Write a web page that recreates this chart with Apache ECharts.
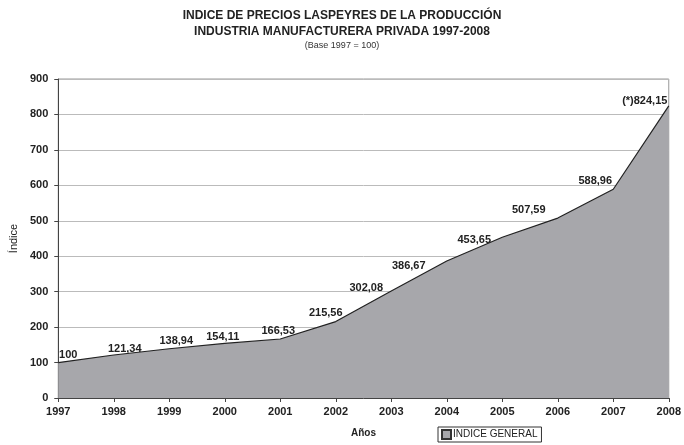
<!DOCTYPE html>
<html>
<head>
<meta charset="utf-8">
<script src="https://cdn.jsdelivr.net/npm/echarts@6/dist/echarts.min.js"></script>
<style>
    html, body { margin: 0; padding: 0; background: #fff; }
    #chart1 { width: 684px; height: 445px; }
</style>
</head>
<body>
<div id="chart1"></div>
<script>
var years = ['1997', '1998', '1999', '2000', '2001', '2002', '2003', '2004', '2005', '2006', '2007', '2008'];
var indice = [100, 121.34, 138.94, 154.11, 166.53, 215.56, 302.08, 386.67, 453.65, 507.59, 588.96, 824.15];
var yTicks = [0, 100, 200, 300, 400, 500, 600, 700, 800, 900];

function fmt(v) {
    // coma decimal, como en el original
    return String(v.toFixed(2)).replace('.', ',').replace(',00', '');
}

chart1();

function chart1() {
    var myChart = echarts.init(document.getElementById('chart1'));
    var font = 'Liberation Sans, Arial, sans-serif';
    // desplazamiento de cada etiqueta respecto del punto
    var labelShift = [[10, 1], [11, 2], [7, 1], [-2, 2], [-2, 0], [-10, 0],
        [-25, 6], [-38, 14], [-28, 11], [-29, 0], [-18, 0], [-24, 4]];
    var data = indice.map(function (v, i) {
        return { value: v, label: { offset: labelShift[i] } };
    });
    var option = {
        animation: false,
        title: {
            text: 'INDICE DE PRECIOS LASPEYRES DE LA PRODUCCIÓN\nINDUSTRIA MANUFACTURERA PRIVADA 1997-2008',
            subtext: '(Base 1997 = 100)',
            left: 'center',
            top: 3,
            itemGap: 1,
            textStyle: {
                fontFamily: font,
                fontSize: 12,
                fontWeight: 'bold',
                color: '#222',
                lineHeight: 16
            },
            subtextStyle: {
                fontFamily: font,
                fontSize: 9,
                color: '#333'
            }
        },
        legend: {
            data: ['INDICE GENERAL'],
            left: 438,
            top: 427,
            padding: [2, 4, 2, 3],
            borderColor: '#333',
            borderWidth: 1,
            borderRadius: 0,
            itemWidth: 9,
            itemHeight: 9,
            itemGap: 2,
            icon: 'rect',
            textStyle: {
                fontFamily: font,
                fontSize: 10,
                color: '#222',
                padding: [0, 0, 0, -3]
            }
        },
        grid: {
            left: 55,
            right: 10,
            top: 79,
            bottom: 47,
            show: true,
            borderColor: '#999',
            borderWidth: 1
        },
        xAxis: {
            type: 'category',
            boundaryGap: false,
            data: years,
            name: 'Años',
            nameLocation: 'middle',
            nameGap: 30,
            nameTextStyle: {
                fontFamily: font,
                fontSize: 10,
                fontWeight: 'bold',
                color: '#222'
            },
            axisLine: { lineStyle: { color: '#444' } },
            axisTick: { alignWithLabel: true, length: 4, lineStyle: { color: '#444' } },
            axisLabel: {
                fontFamily: font,
                fontSize: 11,
                fontWeight: 'bold',
                color: '#222',
                margin: 8,
                interval: 0
            },
            splitLine: { show: false }
        },
        yAxis: {
            type: 'value',
            min: yTicks[0],
            max: yTicks[yTicks.length - 1],
            interval: 100,
            name: 'Índice',
            nameLocation: 'middle',
            nameGap: 36,
            nameRotate: 90,
            nameTextStyle: {
                fontFamily: font,
                fontSize: 11,
                color: '#222'
            },
            axisLine: { show: true, lineStyle: { color: '#444' } },
            axisTick: { show: true, length: 4, lineStyle: { color: '#444' } },
            axisLabel: {
                fontFamily: font,
                fontSize: 11,
                fontWeight: 'bold',
                color: '#222',
                margin: 10
            },
            splitLine: { lineStyle: { color: '#bbb', width: 1 } }
        },
        series: [
            {
                name: 'INDICE GENERAL',
                type: 'line',
                data: data,
                symbol: 'circle',
                symbolSize: 0,
                showSymbol: true,
                lineStyle: { color: '#222', width: 1.2 },
                itemStyle: { color: '#a7a7ab', borderColor: '#333', borderWidth: 1 },
                areaStyle: { color: '#a7a7ab', opacity: 1 },
                label: {
                    show: true,
                    position: 'top',
                    distance: 3,
                    fontFamily: font,
                    fontSize: 11,
                    fontWeight: 'bold',
                    color: '#222',
                    formatter: function (p) {
                        var s = fmt(p.value);
                        return p.dataIndex === years.length - 1 ? '(*)' + s : s;
                    }
                }
            }
        ]
    };
    myChart.setOption(option);
}
</script>
</body>
</html>
